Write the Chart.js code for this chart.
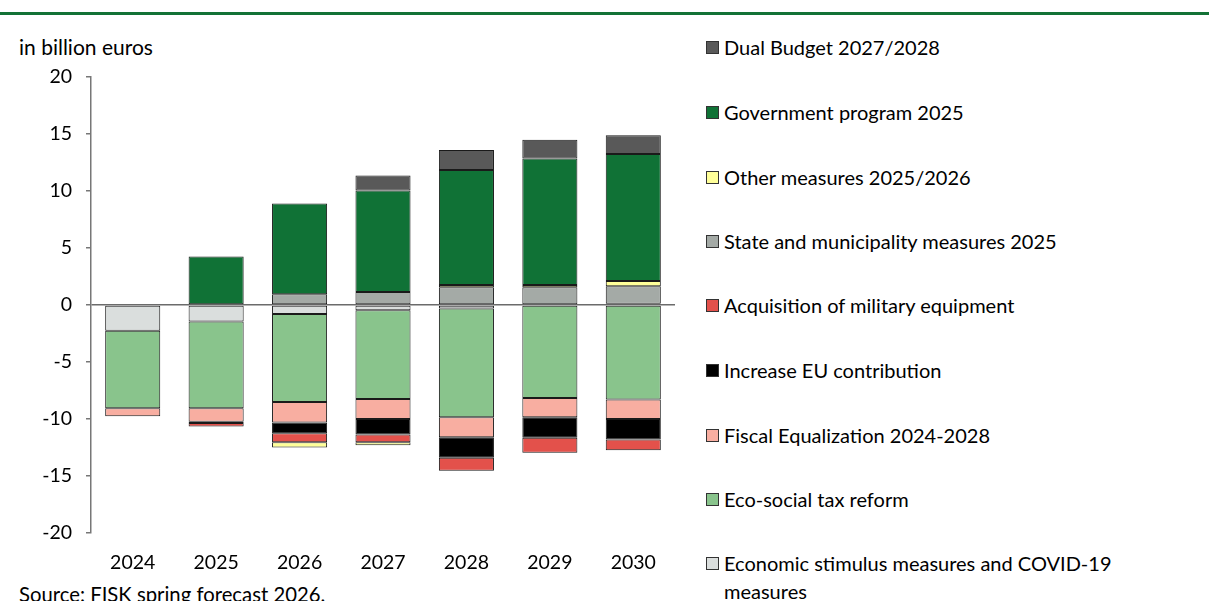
<!DOCTYPE html>
<html>
<head>
<meta charset="utf-8">
<script src="https://cdn.jsdelivr.net/npm/chart.js@4.4.1/dist/chart.umd.min.js"></script>
<style>
  html, body { margin: 0; padding: 0; background: #fff; overflow: hidden; }
  body { width: 1209px; height: 601px; position: relative; font-family: Lato, "Open Sans", sans-serif; color: #000; }
  #topline { position: absolute; left: 0; top: 12px; width: 1209px; height: 3px; background: #137236; }
  #unit { position: absolute; left: 19px; top: 33px; font-size: 21px; line-height: 28px; }
  #source { position: absolute; left: 19px; top: 580px; font-size: 20.3px; line-height: 28px; }
  #wrap { position: absolute; left: 0; top: 0; width: 690px; height: 601px; }
  #legend { position: absolute; left: 706px; top: 0; width: 503px; }
  .li { position: absolute; left: 0; font-size: 20px; line-height: 28px; white-space: nowrap; }
  .sw { position: absolute; left: 0; top: 8px; width: 11px; height: 11px; border: 1px solid #333; box-sizing: content-box; }
  .lt { position: absolute; left: 18px; top: 0; }
</style>
</head>
<body>
<div id="topline"></div>
<div id="unit">in billion euros</div>
<div id="source">Source: FISK spring forecast 2026.</div>
<div id="wrap"><canvas id="c" width="690" height="601"></canvas></div>
<div id="legend"></div>
<script>
const categories = ['2024', '2025', '2026', '2027', '2028', '2029', '2030'];
const yTicks = [20, 15, 10, 5, 0, -5, -10, -15, -20];

const stimulus = [-2.25, -1.45, -0.8, -0.45, -0.3, 0, 0.1];
const ecoSocial = [-6.8, -7.6, -7.7, -7.8, -9.55, -8.15, -8.3];
const fiscalEq = [-0.7, -1.2, -1.8, -1.75, -1.75, -1.7, -1.7];
const euContribution = [0, -0.1, -0.95, -1.35, -1.8, -1.8, -1.8];
const military = [0, -0.3, -0.8, -0.7, -1.15, -1.3, -0.95];
const stateMunicipality = [0, 0, 0.95, 1.15, 1.55, 1.55, 1.55];
const otherMeasures = [0, 0, -0.45, -0.25, 0.2, 0.2, 0.45];
const govProgram = [0, 4.25, 7.95, 8.9, 10.1, 11.1, 11.15];
const dualBudget = [0, 0, 0, 1.3, 1.75, 1.65, 1.65];

const seriesNames = [
  'Economic stimulus measures and COVID-19 measures',
  'Eco-social tax reform',
  'Fiscal Equalization 2024-2028',
  'Increase EU contribution',
  'Acquisition of military equipment',
  'State and municipality measures 2025',
  'Other measures 2025/2026',
  'Government program 2025',
  'Dual Budget 2027/2028'
];
const seriesData = [stimulus, ecoSocial, fiscalEq, euContribution, military, stateMunicipality, otherMeasures, govProgram, dualBudget];
const seriesColors = ['#DADEDD', '#89C48C', '#F8AEA1', '#000000', '#E3514B', '#A4AAA6', '#FFFF99', '#107236', '#595959'];

const datasets = seriesNames.map((n, i) => ({
  label: n,
  data: seriesData[i],
  backgroundColor: seriesColors[i],
  borderColor: '#1a1a1a',
  borderWidth: 1,
  borderSkipped: false,
  barPercentage: 0.66,
  categoryPercentage: 1.0
}));

new Chart(document.getElementById('c'), {
  type: 'bar',
  data: { labels: categories, datasets: datasets },
  options: {
    responsive: false,
    animation: false,
    layout: { padding: { left: 0, right: 15, top: 77, bottom: 0 } },
    plugins: { legend: { display: false }, tooltip: { enabled: false } },
    scales: {
      x: {
        stacked: true,
        grid: { display: false, drawTicks: false },
        border: { display: false },
        ticks: { color: '#000', font: { family: 'Lato', size: 19.5 }, padding: 18, maxRotation: 0 },
        afterFit: (s) => { s.height = 68; }
      },
      y: {
        stacked: true,
        min: -20, max: 20,
        z: 1,
        afterBuildTicks: (s) => { s.ticks = yTicks.map(v => ({ value: v })); },
        afterFit: (s) => { s.width = 91; },
        grid: {
          color: (ctx) => (ctx.tick && ctx.tick.value === 0) ? '#6b6b6b' : 'rgba(0,0,0,0)',
          lineWidth: 1.5,
          tickColor: '#777',
          tickLength: 5,
          drawTicks: true
        },
        border: { display: true, color: '#777', width: 1.5 },
        ticks: { color: '#000', font: { family: 'Lato', size: 19.5 }, padding: 14, autoSkip: false }
      }
    }
  }
});

// HTML legend (reverse order, as in reference)
const legendEl = document.getElementById('legend');
const legendTops = [33, 98, 163, 227, 291, 356, 421, 485, 549];
const order = [8, 7, 6, 5, 4, 3, 2, 1, 0];
order.forEach((idx, k) => {
  const li = document.createElement('div');
  li.className = 'li';
  li.style.top = legendTops[k] + 'px';
  const sw = document.createElement('span');
  sw.className = 'sw';
  sw.style.background = seriesColors[idx];
  const t = document.createElement('span');
  t.className = 'lt';
  if (idx === 0) {
    t.innerHTML = 'Economic stimulus measures and COVID-19<br>measures';
  } else {
    t.textContent = seriesNames[idx];
  }
  li.appendChild(sw);
  li.appendChild(t);
  legendEl.appendChild(li);
});
</script>
</body>
</html>
